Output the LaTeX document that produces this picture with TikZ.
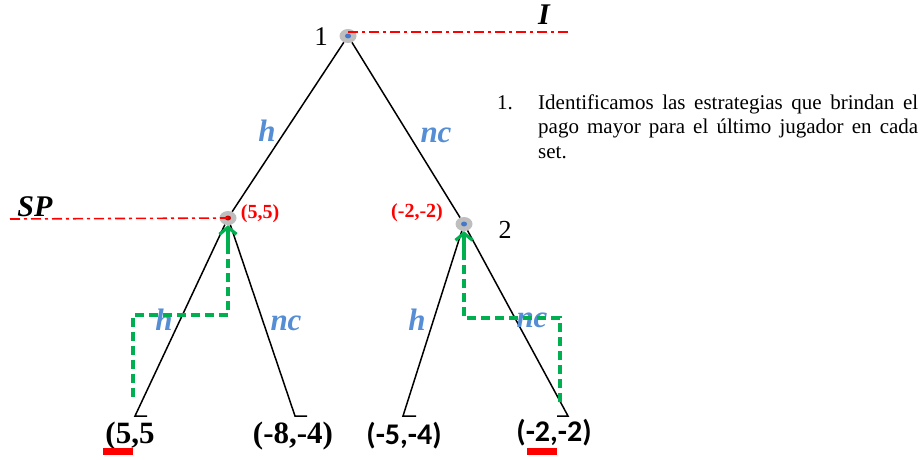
\documentclass[tikz,border=0pt]{standalone}
\usepackage{fontspec}
\setmainfont{Liberation Serif}
\newfontfamily\calfont{Carlito}
\usetikzlibrary{arrows.meta,shapes.geometric}
\definecolor{edgeblue}{RGB}{85,142,213}
\definecolor{grn}{RGB}{0,176,80}
\definecolor{nodegray}{RGB}{190,190,190}
\definecolor{dotblue}{RGB}{70,120,200}
\begin{document}
\begin{tikzpicture}[x=1pt,y=-1pt,
  gnode/.style={ellipse,fill=nodegray,minimum width=17pt,minimum height=14pt,inner sep=0pt},
  branch/.style={black,line width=1.5pt},
  infoline/.style={red,line width=1.6pt,dash pattern=on 10pt off 4pt on 3pt off 4pt},
  elabel/.style={text=edgeblue,inner sep=0pt,font=\fontsize{31}{33}\selectfont\bfseries\itshape},
  paylab/.style={text=red,inner sep=0pt,font=\fontsize{20}{22}\selectfont\bfseries},
  payoff/.style={inner sep=0pt,font=\fontsize{31}{33}\selectfont\bfseries},
  payoffs/.style={inner sep=0pt,font=\fontsize{30}{32}\selectfont\calfont\bfseries},
  bestpath/.style={grn,line width=3.2pt,dash pattern=on 9pt off 5pt},
  bestarrow/.style={grn,line width=3.2pt,-{Straight Barb[length=7pt,width=17pt,line width=3.2pt]}},
  redbar/.style={fill=red,draw=none},
  bodytext/.style={font=\fontsize{21}{24.5}\selectfont,inner sep=0pt}]
\useasboundingbox (0,0) rectangle (921,460);
% nodes
\node[gnode] (r) at (348,36) {};
\node[gnode] (a) at (228,218) {};
\node[gnode] (b) at (464,224) {};
\fill[dotblue] (r.center) ellipse (3pt and 2.5pt);
\fill[dotblue] (b.center) ellipse (3pt and 2.5pt);
\fill[red!80!black] (a.center) ellipse (3pt and 2.5pt);
% leaves
\coordinate (l1) at (135,416);
\coordinate (l1t) at (147,416);
\coordinate (l2) at (295,416);
\coordinate (l2t) at (307,416);
\coordinate (l3) at (403,416);
\coordinate (l3t) at (416,416);
\coordinate (l4) at (568,416);
\coordinate (l4t) at (557,416);
% information lines
\coordinate (istart) at (348,32);
\coordinate (iend) at (570,32);
\coordinate (spstart) at (10,219);
\draw[infoline] (istart) -- (iend);
\draw[infoline] (spstart) -- (a.center);
% branches
\draw[branch] (r) -- (a);
\draw[branch] (r) -- (b);
\draw[branch] (a) -- (l1) -- (l1t);
\draw[branch] (a) -- (l2) -- (l2t);
\draw[branch] (b) -- (l3) -- (l3t);
\draw[branch] (b) -- (l4) -- (l4t);
% labels
\node[font=\fontsize{27}{29}\selectfont,inner sep=0pt] (n1) at (321,37) {1};
\node[font=\fontsize{26}{28}\selectfont,inner sep=0pt] (n2) at (505,230) {2};
\node[font=\fontsize{30}{32}\selectfont\bfseries\itshape,inner sep=0pt] (il) at (544,15) {I};
\node[font=\fontsize{30}{32}\selectfont\bfseries\itshape,inner sep=0pt] (sp) at (35,207) {SP};
\node[paylab] (p1) at (260,214) {(5,5)};
\node[paylab] (p2) at (417,213) {(-2,-2)};
\node[elabel] (e1) at (267,131) {h};
\node[elabel] (e2) at (436,135) {nc};
\node[elabel] (e3) at (164,320) {h};
\node[elabel] (e4) at (286,323) {nc};
\node[elabel] (e5) at (417,320) {h};
\node[elabel] (e6) at (532,320) {nc};
% payoffs
\node[payoff] (o1) at (130,436) {(5,5};
\node[payoff] (o2) at (293,436) {(-8,-4)};
\node[payoffs] (o3) at (404,436) {(-5,-4)};
\node[payoffs] (o4) at (554,433) {(-2,-2)};
\fill[redbar] (103,448) rectangle (133,455);
\fill[redbar] (527,448) rectangle (557,455);
% best response paths
\coordinate (g1) at (133,397);
\coordinate (g1a) at (133,315);
\coordinate (g1b) at (228,315);
\coordinate (g1c) at (228,245);
\draw[bestpath] (g1) -- (g1a) -- (g1b) -- (g1c);
\draw[bestarrow] (g1c) -- (a.south);
\coordinate (g2) at (560,402);
\coordinate (g2a) at (560,318);
\coordinate (g2b) at (464,318);
\coordinate (g2c) at (464,251);
\draw[bestpath] (g2) -- (g2a) -- (g2b) -- (g2c);
\draw[bestarrow] (g2c) -- (b.south);
% text
\node[bodytext,anchor=base west] (num) at (497,109) {1.};
\node[bodytext,anchor=base west,text width=380pt,align=justify] (txt) at (538,109)
{Identificamos las estrategias que brindan el pago mayor para el último jugador en cada\linebreak set.};
\end{tikzpicture}
\end{document}
